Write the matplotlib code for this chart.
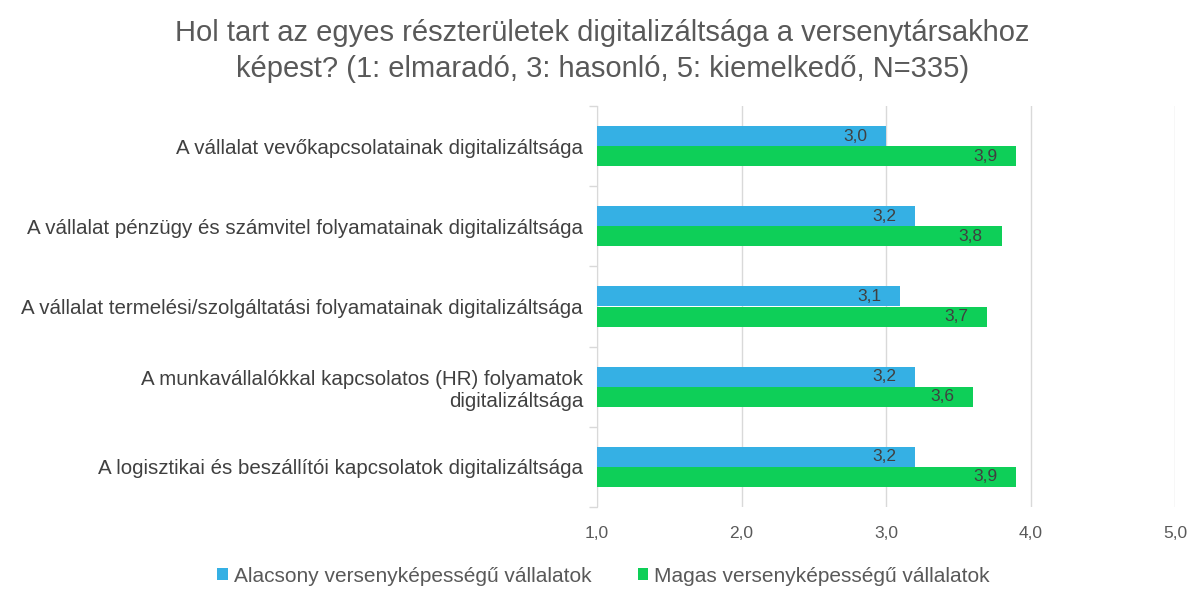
import matplotlib
matplotlib.use("Agg")
import matplotlib.pyplot as plt
import numpy as np

plt.rcParams['font.family'] = ['Liberation Sans', 'DejaVu Sans']

categories = [
    "A vállalat vevőkapcsolatainak digitalizáltsága",
    "A vállalat pénzügy és számvitel folyamatainak digitalizáltsága",
    "A vállalat termelési/szolgáltatási folyamatainak digitalizáltsága",
    "A munkavállalókkal kapcsolatos (HR) folyamatok\ndigitalizáltsága",
    "A logisztikai és beszállítói kapcsolatok digitalizáltsága",
]
low_values = [3.0, 3.2, 3.1, 3.2, 3.2]
high_values = [3.9, 3.8, 3.7, 3.6, 3.9]
series_names = ["Alacsony versenyképességű vállalatok", "Magas versenyképességű vállalatok"]
xticks = [1.0, 2.0, 3.0, 4.0, 5.0]

blue = "#35b0e4"
green = "#0ecf58"
text_gray = "#595959"

fig = plt.figure(figsize=(12, 5.93), dpi=100)
ax = fig.add_axes([597/1200, 1-507/593, (1175-597)/1200, (507-106)/593])

n = len(categories)
y = np.arange(n)
h = 0.25
ax.barh(y - h/2, np.array(low_values) - 1, left=1, height=h, color=blue, label=series_names[0], zorder=3)
ax.barh(y + h/2, np.array(high_values) - 1, left=1, height=h, color=green, label=series_names[1], zorder=3)

for yi, v in zip(y, low_values):
    ax.text(v - 0.13, yi - h/2, f"{v:.1f}".replace('.', ','), ha='right', va='center', fontsize=12.5, color="#404040", zorder=4)
for yi, v in zip(y, high_values):
    ax.text(v - 0.13, yi + h/2, f"{v:.1f}".replace('.', ','), ha='right', va='center', fontsize=12.5, color="#404040", zorder=4)

ax.set_xlim(1, 5)
ax.set_ylim(n - 0.5, -0.5)
ax.set_xticks(xticks)
ax.set_xticklabels([f"{t:.1f}".replace('.', ',') for t in xticks], fontsize=12.5, color=text_gray)
ax.tick_params(axis='x', length=0, pad=14)
ax.xaxis.grid(True, color="#d9d9d9", linewidth=1, zorder=0)

ax.set_yticks(y)
ax.set_yticklabels(categories, fontsize=14.8, color="#404040")
ax.tick_params(axis='y', length=0, pad=10)
ax.set_yticks(np.arange(-0.5, n, 1), minor=True)
ax.tick_params(axis='y', which='minor', length=6, color="#d9d9d9", width=1)

for s in ['top', 'right', 'bottom']:
    ax.spines[s].set_visible(False)
ax.spines['left'].set_color("#d9d9d9")

fig.text(0.502, 1-51/593, "Hol tart az egyes részterületek digitalizáltsága a versenytársakhoz\nképest? (1: elmaradó, 3: hasonló, 5: kiemelkedő, N=335)",
         ha='center', va='center', fontsize=21, color=text_gray, linespacing=1.4)

leg = fig.legend(loc='center', bbox_to_anchor=(0.503, 1-576/593), ncol=2, frameon=False,
                 fontsize=15, handlelength=0.5, handleheight=0.5, handletextpad=0.3, columnspacing=2.2)
for t in leg.get_texts():
    t.set_color(text_gray)

fig.savefig("out.png", dpi=100)
